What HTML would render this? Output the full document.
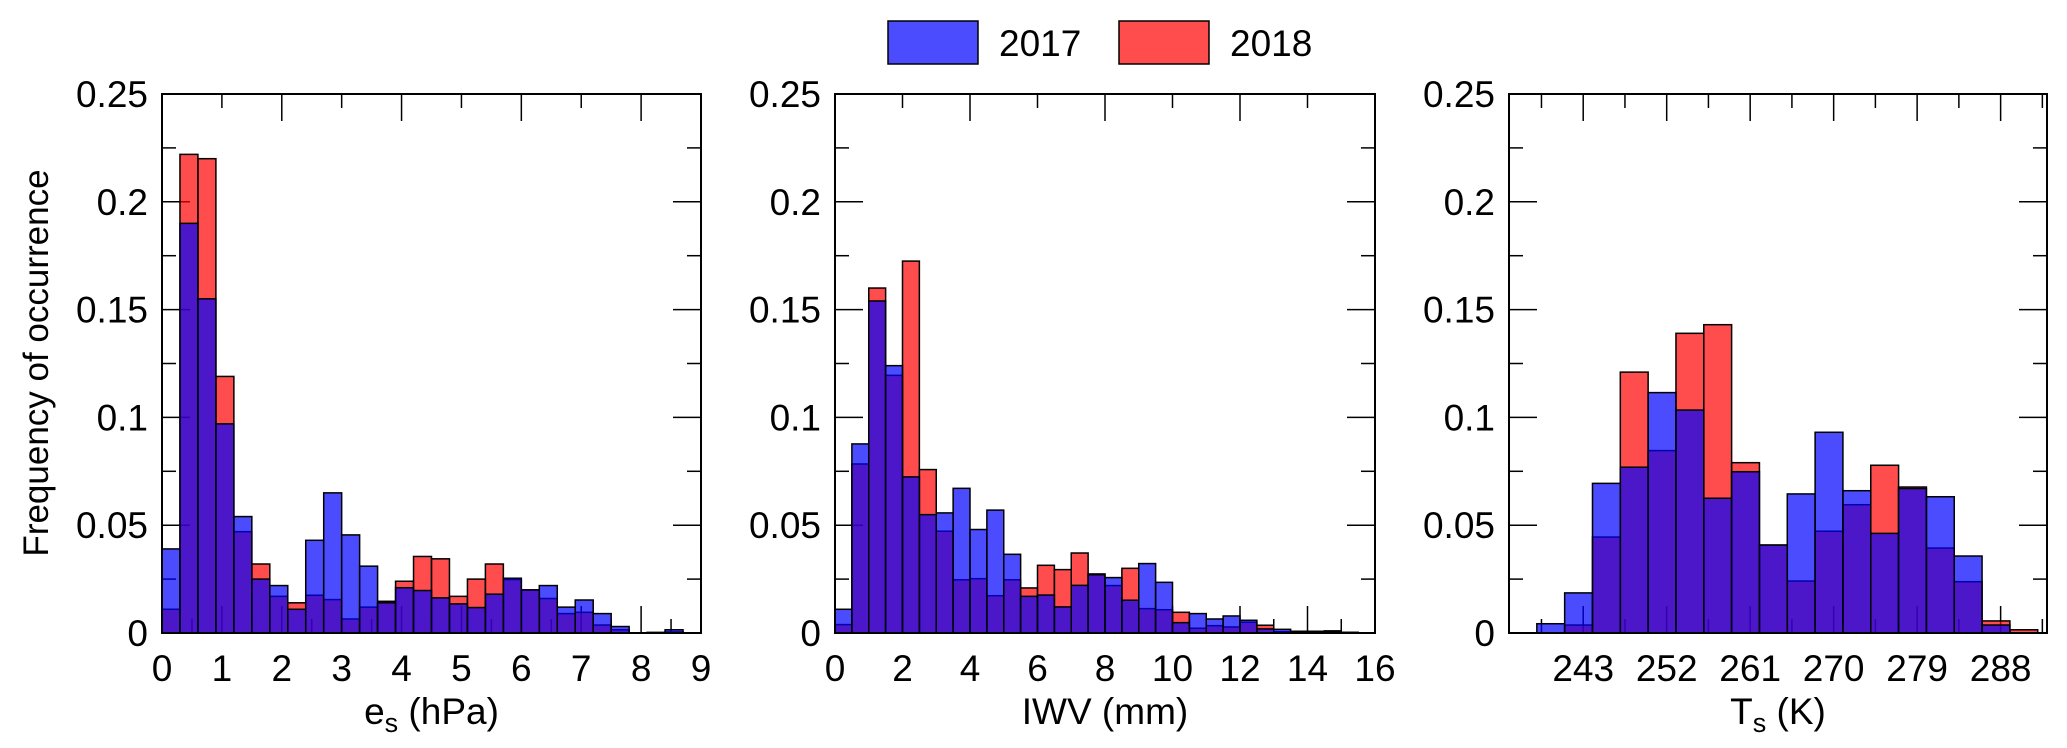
<!DOCTYPE html>
<html><head><meta charset="utf-8"><style>
html,body{margin:0;padding:0;background:#fff;}
svg{display:block;font-family:"Liberation Sans",sans-serif;}
</style></head><body>
<svg id="fig" width="2067" height="748" viewBox="0 0 2067 748" xmlns="http://www.w3.org/2000/svg">
<g>
<rect x="888" y="21" width="90" height="43" fill="rgba(0,0,255,0.7)" stroke="#000" stroke-width="1.5"/>
<text x="999" y="56" font-size="37">2017</text>
<rect x="1119" y="21" width="90" height="43" fill="rgba(255,0,0,0.7)" stroke="#000" stroke-width="1.5"/>
<text x="1230" y="56" font-size="37">2018</text>
</g>
<text transform="translate(48,363) rotate(-90)" text-anchor="middle" font-size="35">Frequency of occurrence</text>
</svg>
<script>
// Panel 1: e_s (hPa), bins of 0.3 from 0 to 9
const esBins = [0,0.3,0.6,0.9,1.2,1.5,1.8,2.1,2.4,2.7,3.0,3.3,3.6,3.9,4.2,4.5,4.8,5.1,5.4,5.7,6.0,6.3,6.6,6.9,7.2,7.5,7.8,8.1,8.4,8.7];
const es2017 = [0.039,0.190,0.155,0.097,0.054,0.025,0.022,0.011,0.043,0.065,0.0455,0.031,0.014,0.021,0.0197,0.0163,0.0135,0.0118,0.018,0.0254,0.020,0.022,0.012,0.0153,0.009,0.003,0,0.0003,0.0015,0];
const es2018 = [0.011,0.222,0.220,0.119,0.047,0.032,0.017,0.014,0.0175,0.0155,0.0065,0.012,0.0147,0.024,0.0355,0.0344,0.017,0.025,0.032,0.0248,0.020,0.016,0.009,0.0096,0.0037,0.0015,0,0,0.0005,0];
// Panel 2: IWV (mm), bins of 0.5 from 0 to 16
const iwvBins = [0,0.5,1,1.5,2,2.5,3,3.5,4,4.5,5,5.5,6,6.5,7,7.5,8,8.5,9,9.5,10,10.5,11,11.5,12,12.5,13,13.5,14,14.5,15,15.5];
const iwv2017 = [0.011,0.0877,0.154,0.124,0.0724,0.0549,0.0557,0.0671,0.048,0.057,0.0365,0.017,0.0176,0.0121,0.0221,0.027,0.0257,0.0152,0.0322,0.0235,0.0048,0.009,0.0065,0.0079,0.0059,0.0019,0.0017,0.0008,0.0008,0.0005,0.0003,0];
const iwv2018 = [0.0039,0.0784,0.160,0.1195,0.1725,0.0758,0.0472,0.0247,0.0252,0.0173,0.0247,0.0209,0.0314,0.0294,0.0371,0.0274,0.022,0.030,0.0113,0.0108,0.0096,0.0022,0.0034,0.0028,0.005,0.0036,0.0006,0.0008,0.0008,0.001,0.0003,0];
// Panel 3: Ts (K), bins of 3 from 238 to 292
const tsBins = [238,241,244,247,250,253,256,259,262,265,268,271,274,277,280,283,286,289];
const ts2017 = [0.0043,0.0186,0.0694,0.0769,0.1115,0.1034,0.0625,0.0748,0.0408,0.0645,0.0931,0.066,0.0462,0.067,0.0632,0.0357,0.0037,0];
const ts2018 = [0,0.0037,0.0445,0.121,0.0846,0.139,0.143,0.079,0.0408,0.0241,0.0472,0.0595,0.0778,0.0677,0.0394,0.0238,0.0056,0.0015];
const yTickLabels = ["0","0.05","0.1","0.15","0.2","0.25"];
const esTickLabels = ["0","1","2","3","4","5","6","7","8","9"];
const iwvTickLabels = ["0","2","4","6","8","10","12","14","16"];
const tsTickLabels = ["243","252","261","270","279","288"];

const NS = "http://www.w3.org/2000/svg";
const svg = document.getElementById("fig");
const Y0 = 633, YTOP = 94, YMAX = 0.25;
function yScale(v){ return Y0 - v/YMAX*(Y0-YTOP); }
function mk(tag, attrs, parent){ const e=document.createElementNS(NS,tag); for(const k in attrs) e.setAttribute(k,attrs[k]); parent.appendChild(e); return e; }

function panel(name, px0, px1, xmin, xmax, bins, bw, s17, s18, tickLabels, tickVals, botStep, topStep, topMajorEvery, tickStart, title, sub, rest){
  const g = mk("g",{},svg);
  
  
  const xs = v => px0 + (v-xmin)/(xmax-xmin)*(px1-px0);
  for(let t=tickStart; t<=xmax+1e-9; t+=botStep){
    const q=(t - tickVals[0])/(botStep*2);
    const isMaj = Math.abs(q-Math.round(q))<1e-6;
    const len = isMaj?27:14;
    const l = mk("line",{x1:xs(t),x2:xs(t),y1:Y0,y2:Y0-len,stroke:"#000","stroke-width":1.5},g);
    
    
  }
  for(let t=tickStart; t<=xmax+1e-9; t+=topStep){
    const q=(t - tickVals[0])/(topStep*topMajorEvery);
    const isMaj = Math.abs(q-Math.round(q))<1e-6;
    const len = isMaj?27:14;
    const l = mk("line",{x1:xs(t),x2:xs(t),y1:YTOP,y2:YTOP+len,stroke:"#000","stroke-width":1.5},g);
    
    
  }
  for(let i=0;i<=10;i++){
    const v=i*0.025, len=(i%2===0)?28:14, y=yScale(v);
    const a = mk("line",{x1:px0,x2:px0+len,y1:y,y2:y,stroke:"#000","stroke-width":1.5},g);
    
    
    const b = mk("line",{x1:px1,x2:px1-len,y1:y,y2:y,stroke:"#000","stroke-width":1.5},g);
    
    
  }
  bins.forEach((b,i)=>{
    const h=s18[i];
    if(h>0){
      const r = mk("rect",{x:xs(b),y:yScale(h),width:xs(b+bw)-xs(b),height:Y0-yScale(h),fill:"rgba(255,0,0,0.7)",stroke:"#000","stroke-width":1.5},g);
      
      
    }
  });
  bins.forEach((b,i)=>{
    const h=s17[i];
    if(h>0){
      const r = mk("rect",{x:xs(b),y:yScale(h),width:xs(b+bw)-xs(b),height:Y0-yScale(h),fill:"rgba(0,0,255,0.7)",stroke:"#000","stroke-width":1.5},g);
      
      
    }
  });
  const fr = mk("rect",{x:px0,y:YTOP,width:px1-px0,height:Y0-YTOP,fill:"none",stroke:"#000","stroke-width":2},g);
  
  
  yTickLabels.forEach((s,i)=>{
    const t = mk("text",{x:px0-14,y:yScale(i*0.05)+13,"font-size":37,"text-anchor":"end"},g);
    t.textContent=s;
    
    
  });
  tickLabels.forEach((s,i)=>{
    const t = mk("text",{x:xs(tickVals[i]),y:681,"font-size":37,"text-anchor":"middle"},g);
    t.textContent=s;
    
    
  });
  const tt = mk("text",{x:(px0+px1)/2,y:724,"font-size":37,"text-anchor":"middle"},g);
  
  
  tt.appendChild(document.createTextNode(title));
  if(sub){ const ts=document.createElementNS(NS,"tspan"); ts.setAttribute("font-size","27"); ts.setAttribute("dy","8"); ts.textContent=sub; tt.appendChild(ts);
    const ts2=document.createElementNS(NS,"tspan"); ts2.setAttribute("dy","-8"); ts2.textContent=rest; tt.appendChild(ts2); }
}

panel("es",162,701,0,9,esBins,0.3,es2017,es2018,esTickLabels,esTickLabels.map(Number),0.5,1,2,0,"e","s"," (hPa)");
panel("iwv",835,1375,0,16,iwvBins,0.5,iwv2017,iwv2018,iwvTickLabels,iwvTickLabels.map(Number),1,2,2,0,"IWV (mm)","","");
panel("ts",1509,2047,235,293,tsBins,3,ts2017,ts2018,tsTickLabels,tsTickLabels.map(Number),4.5,4.5,2,238.5,"T","s"," (K)");
</script>
</body></html>
